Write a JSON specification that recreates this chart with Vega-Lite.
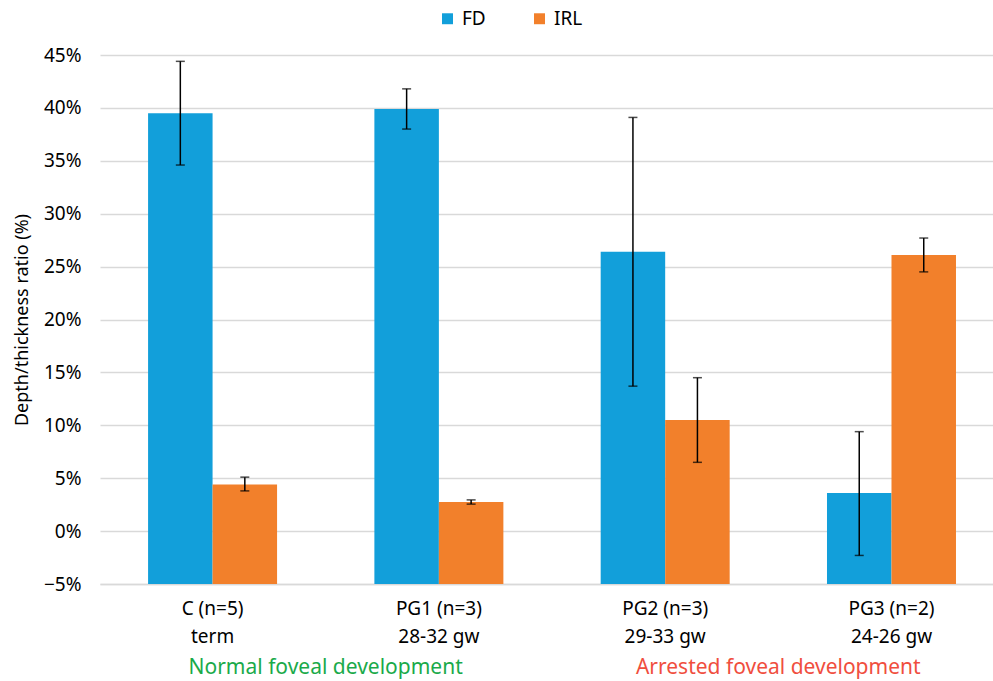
{
  "$schema": "https://vega.github.io/schema/vega-lite/v6.json",
  "autosize": "none",
  "width": 893,
  "height": 529,
  "padding": {"left": 100, "top": 55, "right": 0, "bottom": 97},
  "background": "white",
  "config": {
    "font": "Noto Sans",
    "view": {"stroke": null},
    "axis": {"labelFont": "Noto Sans", "titleFont": "Noto Sans"}
  },
  "datasets": {
    "bars": [
      {"group": "C (n=5)|term", "series": "FD", "value": 0.395, "lo": 0.346, "hi": 0.444},
      {"group": "C (n=5)|term", "series": "IRL", "value": 0.044, "lo": 0.038, "hi": 0.051},
      {"group": "PG1 (n=3)|28-32 gw", "series": "FD", "value": 0.399, "lo": 0.380, "hi": 0.418},
      {"group": "PG1 (n=3)|28-32 gw", "series": "IRL", "value": 0.0275, "lo": 0.0255, "hi": 0.0295},
      {"group": "PG2 (n=3)|29-33 gw", "series": "FD", "value": 0.264, "lo": 0.137, "hi": 0.391},
      {"group": "PG2 (n=3)|29-33 gw", "series": "IRL", "value": 0.105, "lo": 0.065, "hi": 0.145},
      {"group": "PG3 (n=2)|24-26 gw", "series": "FD", "value": 0.036, "lo": -0.023, "hi": 0.094},
      {"group": "PG3 (n=2)|24-26 gw", "series": "IRL", "value": 0.261, "lo": 0.245, "hi": 0.277}
    ],
    "groups": [
      {"label": "Normal foveal development", "pos": 0.5},
      {"label": "Arrested foveal development", "pos": 2.5}
    ]
  },
  "layer": [
    {
      "data": {"name": "bars"},
      "layer": [
        {
          "mark": {"type": "bar"},
          "encoding": {
            "x": {
              "field": "group", "type": "nominal", "sort": null,
              "scale": {"paddingInner": 0.43, "paddingOuter": 0.188, "align": 0.565},
              "axis": {
                "title": null,
                "labelExpr": "split(datum.label, '|')",
                "labelAngle": 0,
                "labelFontSize": 19,
                "labelColor": "#000000",
                "labelLineHeight": 28,
                "labelPadding": 15,
                "ticks": false,
                "domainColor": "#d9d9d9",
                "domainWidth": 1.5
              }
            },
            "xOffset": {"field": "series", "type": "nominal", "scale": {"paddingInner": 0, "paddingOuter": 0}},
            "y": {
              "field": "value", "type": "quantitative",
              "scale": {"domain": [-0.05, 0.45], "nice": false, "zero": false},
              "axis": {
                "title": "Depth/thickness ratio (%)",
                "titleFontSize": 18,
                "titleFontWeight": "normal",
                "titleColor": "#000000",
                "titlePadding": 12,
                "format": ".0%",
                "values": [-0.05, 0, 0.05, 0.1, 0.15, 0.2, 0.25, 0.3, 0.35, 0.4, 0.45],
                "labelFontSize": 19,
                "labelColor": "#000000",
                "labelPadding": 19,
                "ticks": false,
                "domain": false,
                "gridColor": "#d9d9d9",
                "gridWidth": 1.5
              }
            },
            "y2": {"datum": -0.05},
            "color": {
              "field": "series", "type": "nominal",
              "scale": {"domain": ["FD", "IRL"], "range": ["#129fda", "#f2802b"]},
              "legend": {
                "title": null,
                "orient": "none",
                "direction": "horizontal",
                "legendX": 338,
                "legendY": -46,
                "symbolType": "square",
                "symbolSize": 120,
                "labelFontSize": 19,
                "labelColor": "#000000",
                "columnPadding": 44,
                "labelOffset": 5
              }
            }
          }
        },
        {
          "mark": {"type": "rule", "color": "#000000", "strokeWidth": 1.5},
          "encoding": {
            "x": {"field": "group", "type": "nominal", "sort": null},
            "xOffset": {"field": "series", "type": "nominal"},
            "y": {"field": "lo", "type": "quantitative"},
            "y2": {"field": "hi"}
          }
        },
        {
          "mark": {"type": "tick", "color": "#000000", "thickness": 1.5, "size": 9, "orient": "horizontal"},
          "encoding": {
            "x": {"field": "group", "type": "nominal", "sort": null},
            "xOffset": {"field": "series", "type": "nominal"},
            "y": {"field": "lo", "type": "quantitative"}
          }
        },
        {
          "mark": {"type": "tick", "color": "#000000", "thickness": 1.5, "size": 9, "orient": "horizontal"},
          "encoding": {
            "x": {"field": "group", "type": "nominal", "sort": null},
            "xOffset": {"field": "series", "type": "nominal"},
            "y": {"field": "hi", "type": "quantitative"}
          }
        }
      ]
    },
    {
      "data": {"name": "groups"},
      "mark": {"type": "text", "fontSize": 21, "baseline": "middle", "align": "center"},
      "encoding": {
        "x": {"field": "pos", "type": "quantitative", "scale": {"domain": [-0.497, 3.449], "nice": false, "zero": false}, "axis": null},
        "y": {"datum": -0.1295},
        "text": {"field": "label"},
        "color": {"condition": {"test": "datum.pos < 1", "value": "#1aaa4a"}, "value": "#f04e3e"}
      }
    }
  ],
  "resolve": {"scale": {"x": "independent"}}
}
